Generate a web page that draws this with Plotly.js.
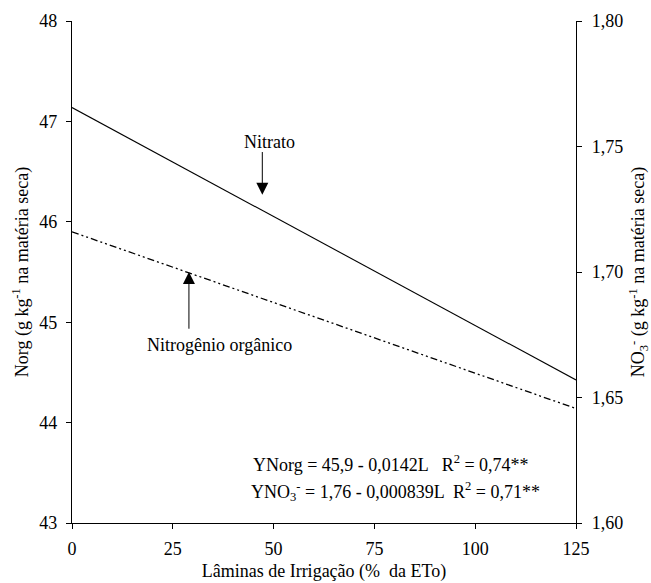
<!DOCTYPE html>
<html>
<head>
<meta charset="utf-8">
<script src="https://cdn.plot.ly/plotly-3.0.1.min.js"></script>
<style>html,body{margin:0;padding:0;background:#fff;}#chart{width:651px;height:583px;}</style>
</head>
<body>
<div id="chart"></div>
<script>
// Data
const lamina = [0, 125];                 // % da ETo
const norg = [45.9, 44.14];              // g kg-1 (left axis)
const nitrato = [1.7655, 1.657];         // g kg-1 (right axis)
const xTicks = [0, 25, 50, 75, 100, 125];
const yLeftTicks = [43, 44, 45, 46, 47, 48];
const yRightTicks = [1.60, 1.65, 1.70, 1.75, 1.80];
const yRightLabels = ['1,60', '1,65', '1,70', '1,75', '1,80'];

const font = {family: '"Liberation Serif", "Times New Roman", Times, serif', size: 18, color: '#000'};

const traces = [
  {x: lamina, y: norg, type: 'scatter', mode: 'lines', yaxis: 'y',
   line: {color: '#000', width: 1.3, dash: '7px,3px,2px,3px,2px,3px'}, name: 'Nitrogênio orgânico'},
  {x: lamina, y: nitrato, type: 'scatter', mode: 'lines', yaxis: 'y2',
   line: {color: '#000', width: 1.1}, name: 'Nitrato'}
];

const layout = {
  width: 651, height: 583,
  margin: {l: 72, r: 75, t: 21, b: 60},
  paper_bgcolor: '#fff', plot_bgcolor: '#fff',
  showlegend: false,
  font: font,
  xaxis: {
    range: [0, 125], tickvals: xTicks, ticktext: xTicks.map(String),
    showgrid: false, zeroline: false, showline: true, linecolor: '#000', linewidth: 1.2,
    ticks: 'outside', ticklen: 5, tickcolor: '#000', tickfont: font, ticklabelstandoff: 4,
    title: {text: 'Lâminas de Irrigação (%  da ETo)', font: font, standoff: 6}
  },
  yaxis: {
    range: [43, 48], tickvals: yLeftTicks,
    showgrid: false, zeroline: false, showline: true, linecolor: '#000', linewidth: 1.2,
    ticks: 'outside', ticklen: 5, tickcolor: '#000', tickfont: font, ticklabelstandoff: 5,
    title: {text: 'Norg (g kg<sup>-1</sup> na matéria seca)', font: font, standoff: 6}
  },
  yaxis2: {
    range: [1.60, 1.80], tickvals: yRightTicks, ticktext: yRightLabels,
    overlaying: 'y', side: 'right', anchor: 'x',
    showgrid: false, zeroline: false, showline: true, linecolor: '#000', linewidth: 1.2,
    ticks: 'outside', ticklen: 5, tickcolor: '#000', tickfont: font, ticklabelstandoff: 6,
    title: {text: 'NO<sub>3</sub><sup>-</sup> (g kg<sup>-1</sup> na matéria seca)', font: font, standoff: 10}
  },
  annotations: [
    {x: 49, y: 46.79, xref: 'x', yref: 'y', text: 'Nitrato', showarrow: false, font: font},
    {x: 47.2, y: 46.27, xref: 'x', yref: 'y', ax: 47.2, ay: 46.71, axref: 'x', ayref: 'y',
     text: '', showarrow: true, arrowhead: 2, arrowsize: 2.4, arrowwidth: 1, arrowcolor: '#000', standoff: 0},
    {x: 29, y: 45.5, xref: 'x', yref: 'y', ax: 29, ay: 44.92, axref: 'x', ayref: 'y',
     text: '', showarrow: true, arrowhead: 2, arrowsize: 2.4, arrowwidth: 1, arrowcolor: '#000', standoff: 0},
    {x: 36.7, y: 44.77, xref: 'x', yref: 'y', text: 'Nitrogênio orgânico', showarrow: false, font: font},
    {x: 44.4, y: 43.59, xref: 'x', yref: 'y', xanchor: 'left', text: 'YNorg = 45,9 - 0,0142L   R<sup>2</sup> = 0,74**', showarrow: false, font: font},
    {x: 43.9, y: 43.31, xref: 'x', yref: 'y', xanchor: 'left', text: 'YNO<sub>3</sub><sup>-</sup> = 1,76 - 0,000839L  R<sup>2</sup> = 0,71**', showarrow: false, font: font}
  ]
};

Plotly.newPlot('chart', traces, layout, {displayModeBar: false, staticPlot: true});
</script>
</body>
</html>
